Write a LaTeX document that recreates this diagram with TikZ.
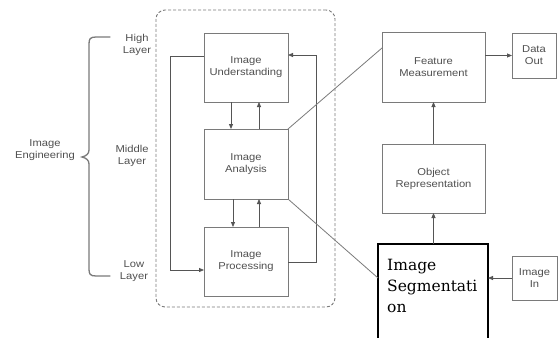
\documentclass[tikz,border=0pt]{standalone}
\usepackage{fontspec}
\setmainfont{Liberation Sans}
\newfontfamily\boxfont[FakeStretch=1.12]{Liberation Sans}
\newfontfamily\segfont{DejaVu Serif}
\usetikzlibrary{arrows.meta}
\definecolor{boxgray}{HTML}{7A7A7A}
\definecolor{linegray}{HTML}{555555}
\definecolor{txtgray}{HTML}{505050}
\tikzset{
  box/.style={draw=boxgray, line width=0.9pt, inner sep=0pt, outer sep=0pt,
    align=center, font=\boxfont\fontsize{10}{12}\selectfont, text=txtgray},
  lbl/.style={align=center, font=\boxfont\fontsize{10}{12.5}\selectfont, text=txtgray, inner sep=0pt},
  arr/.style={draw=linegray, line width=0.8pt, -{Triangle[length=5pt,width=4pt]}},
  plain/.style={draw=boxgray, line width=0.8pt},
  dashbox/.style={draw=boxgray, line width=0.9pt, dash pattern=on 3pt off 2pt, rounded corners=9pt, inner sep=0pt, outer sep=0pt},
}
\begin{document}
\begin{tikzpicture}[x=1pt,y=-1pt]
\useasboundingbox (0,0) rectangle (558,338);
\clip (0,0) rectangle (558,338);
\fill[white] (0,0) rectangle (558,338);
% dashed group
\node[dashbox, minimum width=179pt, minimum height=297pt] (grp) at (245.5,158.5) {};
% left column boxes
\node[box, minimum width=84pt, minimum height=69pt] (und) at (246,67.5) {Image\\Understanding};
\node[box, minimum width=84pt, minimum height=70pt] (ana) at (246,164) {Image\\Analysis};
\node[box, minimum width=84pt, minimum height=69pt] (proc) at (246,261.5) {Image\\Processing};
% right column boxes
\node[box, minimum width=103pt, minimum height=70pt] (feat) at (433.5,67) {Feature\\Measurement};
\node[box, minimum width=44pt, minimum height=45pt] (dout) at (534,55.5) {Data\\Out};
\node[box, minimum width=103pt, minimum height=69pt] (obj) at (433.5,178.5) {Object\\Representation};
\node[draw=black, line width=1.5pt, inner sep=0pt, outer sep=0pt, minimum width=110pt, minimum height=104pt] (seg) at (433,296) {};
\node[anchor=north west, inner sep=0pt, align=left, font=\segfont\fontsize{15.5}{21}\selectfont] (segtxt) at (387,259) {Image\\Segmentati\\on};
\node[box, minimum width=45pt, minimum height=44pt] (imin) at (534.5,278) {Image\\In};
% layer labels
\node[lbl] (high) at (137,45) {High\\Layer};
\node[lbl] (mid) at (132,156) {Middle\\Layer};
\node[lbl] (low) at (134,271) {Low\\Layer};
\node[lbl] (eng) at (45,150) {Image\\Engineering};
% brace
\draw[boxgray, line width=1.3pt, line cap=round]
  (110,37) -- (96,37) .. controls (90,37) and (89,39) .. (89,44) -- (89,150)
  .. controls (89,154) and (86,156) .. (82,157)
  .. controls (86,158) and (89,160) .. (89,164) -- (89,269)
  .. controls (89,274) and (90,276) .. (96,276) -- (110,276);
% vertical arrows
\draw[arr] ([xshift=-15pt]und.south) -- ([xshift=-15pt]und.south |- ana.north);
\draw[arr] ([xshift=13pt]ana.north) -- ([xshift=13pt]ana.north |- und.south);
\draw[arr] ([xshift=-13pt]ana.south) -- ([xshift=-13pt]ana.south |- proc.north);
\draw[arr] ([xshift=13pt]proc.north) -- ([xshift=13pt]proc.north |- ana.south);
% feedback loops
\coordinate (lx) at (170,0);
\coordinate (rx) at (316,0);
\coordinate (a1) at ([yshift=11.5pt]und.west);
\coordinate (b1) at ([yshift=-8.5pt]proc.west);
\draw[arr] (a1) -- (a1 -| lx) |- (b1);
\coordinate (b2) at ([yshift=-0.5pt]proc.east);
\coordinate (a2) at ([yshift=12.5pt]und.east);
\draw[arr] (b2) -- (b2 -| rx) |- (a2);
% diagonals
\draw[plain] (ana.north east) -- ([yshift=19pt]feat.west);
\draw[plain] (ana.south east) -- ([yshift=18pt]seg.west);
% right column arrows
\draw[arr] (feat.east |- dout.west) -- (dout.west);
\draw[arr] (obj.north) -- (feat.south);
\draw[arr] (seg.north -| obj.south) -- (obj.south);
\draw[arr] (imin.west) -- (imin.west -| seg.east);
\end{tikzpicture}
\end{document}
